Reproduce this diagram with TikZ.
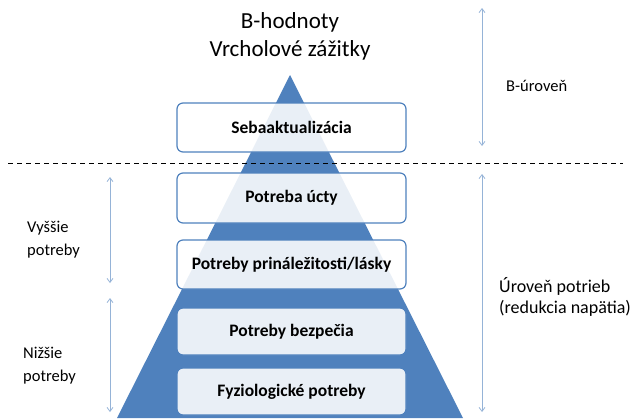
\documentclass[tikz,border=0pt]{standalone}
\usepackage{fontspec}
\setmainfont{Carlito}
\usetikzlibrary{arrows.meta}
\definecolor{pyr}{HTML}{4F81BD}
\definecolor{arr}{HTML}{95B3D7}
\tikzset{
  level/.style={draw=pyr, line width=1.2pt, fill=white, fill opacity=0.88, text opacity=1, rounded corners=6pt, minimum width=229pt, inner sep=0pt, font=\fontsize{17.5}{20}\selectfont\bfseries},
  span/.style={draw=arr, line width=0.8pt, {Straight Barb[length=4pt,width=6pt]}-{Straight Barb[length=4pt,width=6pt]}},
  side/.style={font=\fontsize{16.5}{23}\selectfont, align=left, anchor=west, inner sep=0pt},
  sideR/.style={font=\fontsize{18}{21}\selectfont, align=left, anchor=west, inner sep=0pt},
}
\begin{document}
\begin{tikzpicture}[x=1pt,y=-1pt]
\useasboundingbox (0,0) rectangle (632,418);
% pyramid
\fill[pyr] (290,75) -- (463,418) -- (117,418) -- cycle;
% title
\node[font=\fontsize{23}{28}\selectfont, align=center] (title) at (290,36) {B-hodnoty\\Vrcholové zážitky};
% levels
\node[level, minimum height=49pt] (l5) at (291.5,127.5) {Sebaaktualizácia};
\node[level, minimum height=50pt] (l4) at (291.5,198) {Potreba úcty};
\node[level, minimum height=49pt] (l3) at (291.5,264.5) {Potreby prináležitosti/lásky};
\node[level, minimum height=47pt] (l2) at (291.5,331.5) {Potreby bezpečia};
\node[level, minimum height=47pt] (l1) at (291.5,391.5) {Fyziologické potreby};
% dashed line
\coordinate (dl) at (8,163);
\coordinate (dr) at (623,163);
\draw[dashed, line width=0.8pt, dash pattern=on 5pt off 4pt] (dl) -- (dr);
% right arrows
\coordinate (r1t) at (482,8);
\coordinate (r1b) at (482,146);
\coordinate (r2t) at (482,174);
\coordinate (r2b) at (482,412);
\draw[span] (r1t) -- (r1b);
\draw[span] (r2t) -- (r2b);
\node[side] (bu) at (506,86) {B-úroveň};
\node[sideR] (up) at (499,297) {Úroveň potrieb\\(redukcia napätia)};
% left arrows
\coordinate (a1t) at (110,177);
\coordinate (a1b) at (110,283);
\coordinate (a2t) at (110,298);
\coordinate (a2b) at (110,412);
\draw[span] (a1t) -- (a1b);
\draw[span] (a2t) -- (a2b);
\node[side] (vy) at (27,240) {Vyššie\\potreby};
\node[side] (ni) at (23,366) {Nižšie\\potreby};
\end{tikzpicture}
\end{document}
